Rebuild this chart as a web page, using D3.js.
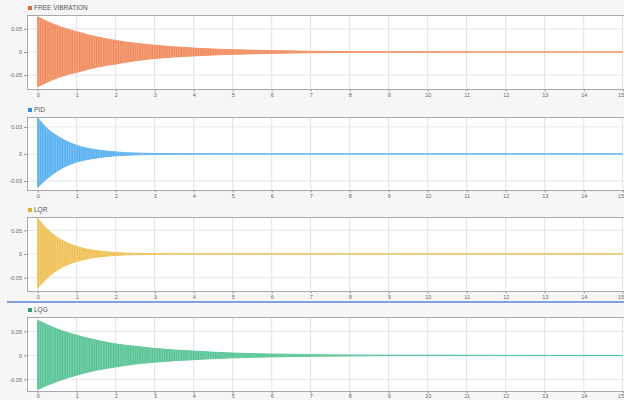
<!DOCTYPE html>
<html>
<head>
<meta charset="utf-8">
<script src="https://cdn.jsdelivr.net/npm/d3@7"></script>
<style>
  html, body { margin: 0; padding: 0; background: #f6f6f6; }
  svg { display: block; }
</style>
</head>
<body>
<svg id="chart" width="624" height="400"></svg>
<script>
// Envelope samples (peak of the dense oscillation, upper / lower)
const timeS      = [0, 0.25, 0.5, 0.75, 1, 1.5, 2, 2.5, 3, 4, 5, 6, 7, 8, 9, 15];

const freeUpper  = [0.076, 0.066, 0.057, 0.050, 0.044, 0.033, 0.025, 0.019, 0.0145, 0.0085, 0.005, 0.003, 0.0016, 0.0008, 0.0004, 0];
const freeLower  = [-0.075, -0.065, -0.056, -0.049, -0.044, -0.033, -0.026, -0.019, -0.014, -0.0085, -0.005, -0.003, -0.0016, -0.0008, -0.0004, 0];

const pidUpper   = [0.040, 0.028, 0.020, 0.014, 0.0095, 0.0047, 0.0022, 0.001, 0.0005, 0.0002, 0, 0, 0, 0, 0, 0];
const pidLower   = [-0.037, -0.027, -0.019, -0.013, -0.009, -0.0045, -0.0021, -0.001, -0.0005, -0.0002, 0, 0, 0, 0, 0, 0];

const lqrUpper   = [0.075, 0.052, 0.035, 0.024, 0.016, 0.0072, 0.003, 0.0013, 0.0006, 0.0002, 0, 0, 0, 0, 0, 0];
const lqrLower   = [-0.072, -0.050, -0.034, -0.023, -0.016, -0.007, -0.003, -0.0013, -0.0006, -0.0002, 0, 0, 0, 0, 0, 0];

const lqgUpper   = [0.073, 0.064, 0.055, 0.048, 0.042, 0.032, 0.024, 0.019, 0.0146, 0.009, 0.005, 0.003, 0.0017, 0.001, 0.0005, 0];
const lqgLower   = [-0.071, -0.062, -0.054, -0.047, -0.041, -0.031, -0.024, -0.018, -0.014, -0.0088, -0.005, -0.003, -0.0017, -0.001, -0.0005, 0];

const xTicks     = d3.range(0, 16);
const ticks005   = [-0.05, 0, 0.05];
const ticks003   = [-0.03, 0, 0.03];

const seriesNames = ['FREE VIBRATION', 'PID', 'LQR', 'LQG'];

// Layout / style (kept apart from the data)
const panels = [
  { name: seriesNames[0], upper: freeUpper, lower: freeLower, ticks: ticks005, domain: [-0.08, 0.08],   top: 15,  bottom: 89,  pad: 2, fill: '#f08a5b', key: '#e8652e' },
  { name: seriesNames[1], upper: pidUpper,  lower: pidLower,  ticks: ticks003, domain: [-0.04, 0.041],  top: 117, bottom: 190, pad: 2, fill: '#55b0ee', key: '#2391e0' },
  { name: seriesNames[2], upper: lqrUpper,  lower: lqrLower,  ticks: ticks005, domain: [-0.078, 0.078], top: 217, bottom: 291, pad: 2, fill: '#efc052', key: '#e2a923' },
  { name: seriesNames[3], upper: lqgUpper,  lower: lqgLower,  ticks: ticks005, domain: [-0.074, 0.080], top: 317, bottom: 391, pad: 1, fill: '#55c393', key: '#22a56c' }
];

const plotLeft = 27;
const x = d3.scaleLinear().domain([0, 15]).range([37.7, 622.7]);

const svg = d3.select('#chart');
const defs = svg.append('defs');

// thin light streaks to mimic the dense oscillation texture
const pat = defs.append('pattern')
  .attr('id', 'streaks')
  .attr('patternUnits', 'userSpaceOnUse')
  .attr('width', 1.7).attr('height', 10);
pat.append('rect').attr('x', 0).attr('y', 0).attr('width', 0.6).attr('height', 10)
  .attr('fill', '#fff').attr('opacity', 0.28);

// blue separator line between LQR and LQG panels
svg.append('line')
  .attr('x1', 7).attr('x2', 624)
  .attr('y1', 302).attr('y2', 302)
  .attr('stroke', '#5a86d8')
  .attr('stroke-width', 1.5);

panels.forEach((p, pi) => {
  const y = d3.scaleLinear().domain(p.domain).range([p.bottom, p.top]);
  const g = svg.append('g').attr('class', 'panel');

  // plot background
  g.append('rect')
    .attr('x', plotLeft).attr('y', p.top)
    .attr('width', 624 - plotLeft + 5).attr('height', p.bottom - p.top)
    .attr('fill', '#fff');

  // grid
  g.append('g').selectAll('line.vgrid')
    .data(xTicks)
    .join('line')
    .attr('x1', d => x(d)).attr('x2', d => x(d))
    .attr('y1', p.top).attr('y2', p.bottom)
    .attr('stroke', '#e3e3e3').attr('stroke-width', 1);
  g.append('g').selectAll('line.hgrid')
    .data(p.ticks)
    .join('line')
    .attr('x1', plotLeft).attr('x2', 624)
    .attr('y1', d => y(d)).attr('y2', d => y(d))
    .attr('stroke', '#e6e6e6').attr('stroke-width', 1);

  // signal band
  const data = timeS.map((t, i) => ({ t, hi: p.upper[i], lo: p.lower[i] }));
  const area = d3.area()
    .x(d => x(d.t))
    .y0(d => y(d.lo))
    .y1(d => y(d.hi))
    .curve(d3.curveMonotoneX);

  g.append('path')
    .datum(data)
    .attr('d', area)
    .attr('fill', p.fill)
    .attr('stroke', p.fill)
    .attr('stroke-width', 0.9);
  g.append('path')
    .datum(data)
    .attr('d', area)
    .attr('fill', 'url(#streaks)')
    .attr('stroke', 'none');

  // frame
  g.append('rect')
    .attr('x', plotLeft + 0.5).attr('y', p.top + 0.5)
    .attr('width', 624 - plotLeft + 5).attr('height', p.bottom - p.top)
    .attr('fill', 'none')
    .attr('stroke', '#a9a9a9')
    .attr('stroke-width', 1);

  // axes
  const xAxis = d3.axisBottom(x).tickValues(xTicks).tickSize(2).tickPadding(p.pad).tickFormat(d3.format('d'));
  const gx = g.append('g')
    .attr('transform', `translate(0,${p.bottom + 0.5})`)
    .call(xAxis);
  gx.select('.domain').remove();
  // last label sits at the window edge: keep it inside
  gx.selectAll('.tick text').filter(d => d === 15).attr('text-anchor', 'end').attr('dx', 1);

  const yAxis = d3.axisLeft(y).tickValues(p.ticks).tickSize(3).tickPadding(2)
    .tickFormat(d => d === 0 ? '0' : String(d));
  const gy = g.append('g')
    .attr('transform', `translate(${plotLeft},0)`)
    .call(yAxis);
  gy.select('.domain').remove();

  [gx, gy].forEach(a => {
    a.selectAll('.tick line').attr('stroke', '#999');
    a.selectAll('.tick text')
      .attr('fill', '#666')
      .style('font-family', 'Liberation Sans, Arial, sans-serif')
      .style('font-size', '5.5px');
  });

  // legend
  const lg = g.append('g').attr('transform', `translate(28,${p.top - 7})`);
  lg.append('rect')
    .attr('x', 0).attr('y', -2).attr('width', 4).attr('height', 4)
    .attr('fill', p.key);
  lg.append('text')
    .attr('x', 6).attr('y', 0)
    .attr('dy', '0.35em')
    .attr('fill', '#555')
    .style('font-family', 'Liberation Sans, Arial, sans-serif')
    .style('font-size', '6.5px')
    .text(p.name);
});
</script>
</body>
</html>
